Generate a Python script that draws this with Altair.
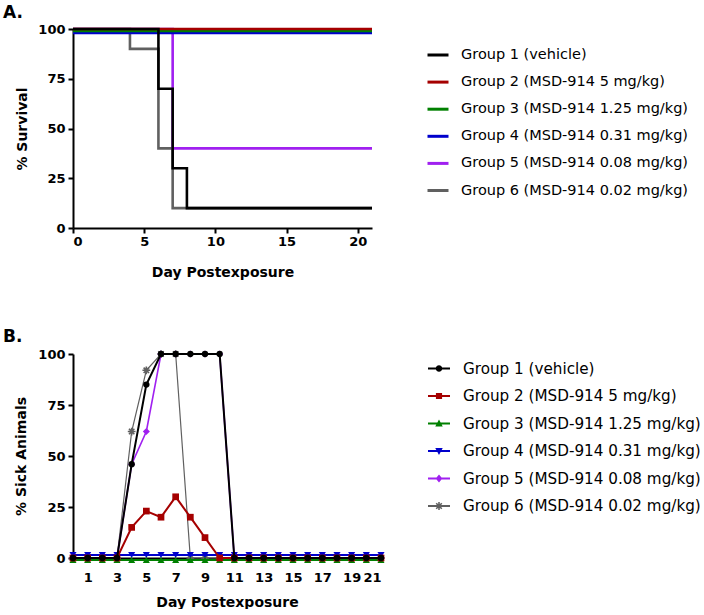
import math

import altair as alt
import pandas as pd

FONT = "DejaVu Sans"

groups = [
    "Group 1 (vehicle)",
    "Group 2 (MSD-914 5 mg/kg)",
    "Group 3 (MSD-914 1.25 mg/kg)",
    "Group 4 (MSD-914 0.31 mg/kg)",
    "Group 5 (MSD-914 0.08 mg/kg)",
    "Group 6 (MSD-914 0.02 mg/kg)",
]
colors = ["#000000", "#a50000", "#008000", "#0000cc", "#a020f0", "#606060"]

# Panel A: Kaplan-Meier survival, step points (day, % survival)
g1_surv_day = [0, 6, 7, 8, 21]
g1_surv = [100, 70, 30, 10, 10]
g2_surv_day = [0, 21]
g2_surv = [100, 100]
g3_surv_day = [0, 21]
g3_surv = [100, 100]
g4_surv_day = [0, 21]
g4_surv = [100, 100]
g5_surv_day = [0, 7, 21]
g5_surv = [100, 40, 40]
g6_surv_day = [0, 4, 6, 7, 21]
g6_surv = [100, 90, 40, 10, 10]

# Panel B: % sick animals per day
days = list(range(0, 22))
g1_sick = [0, 0, 0, 0, 46, 85, 100, 100, 100, 100, 100, 0, 0, 0, 0, 0, 0, 0, 0, 0, 0, 0]
g2_sick = [0, 0, 0, 0, 15, 23, 20, 30, 20, 10, 0, 0, 0, 0, 0, 0, 0, 0, 0, 0, 0, 0]
g3_sick = [0] * 22
g4_sick = [0] * 22
g5_sick = [0, 0, 0, 0, 46, 62, 100, 100, 100, 100, 100, 0, 0, 0, 0, 0, 0, 0, 0, 0, 0, 0]
g6_sick = [0, 0, 0, 0, 62, 92, 100, 100, 0, 0, 0, 0, 0, 0, 0, 0, 0, 0, 0, 0, 0, 0]

x_ticks_a = [0, 5, 10, 15, 20]
x_ticks_b = [1, 3, 5, 7, 9, 11, 13, 15, 17, 19, 21]
y_ticks = [0, 25, 50, 75, 100]

surv_days = [g1_surv_day, g2_surv_day, g3_surv_day, g4_surv_day, g5_surv_day, g6_surv_day]
surv_vals = [g1_surv, g2_surv, g3_surv, g4_surv, g5_surv, g6_surv]
sick_vals = [g1_sick, g2_sick, g3_sick, g4_sick, g5_sick, g6_sick]

# stacked flat lines are nudged apart so each stays visible
offset_a = [0, 0, 2, 4, 0, 0]
offset_b = [0, 0, 2, -3, 0, 0]
width_b = [2, 2, 2, 2, 1.6, 1.2]

star_path = "M0,-1V1M-1,0H1M-0.7,-0.7L0.7,0.7M-0.7,0.7L0.7,-0.7"
point_shapes = ["circle", "square", "triangle-up", "triangle-down", "diamond", star_path]
point_sizes = [40, 45, 50, 50, 50, 60]


def bar(angle_deg, half_len, half_thick):
    """Closed path of a thin bar through the origin (clockwise on screen)."""
    a = math.radians(angle_deg)
    dx, dy = math.cos(a), math.sin(a)
    nx, ny = -dy, dx
    pts = [
        (-half_len * dx - half_thick * nx, -half_len * dy - half_thick * ny),
        (half_len * dx - half_thick * nx, half_len * dy - half_thick * ny),
        (half_len * dx + half_thick * nx, half_len * dy + half_thick * ny),
        (-half_len * dx + half_thick * nx, -half_len * dy + half_thick * ny),
    ]
    return "M" + "L".join(f"{x:.3f},{y:.3f}" for x, y in pts) + "Z"


# legend symbols for panel B: a line segment with the group's marker in its middle
seg = bar(0, 1, 0.09)
legend_paths = [
    seg + "M-0.3,0A0.3,0.3,0,1,1,0.3,0A0.3,0.3,0,1,1,-0.3,0Z",
    seg + "M-0.28,-0.28H0.28V0.28H-0.28Z",
    seg + "M0,-0.36L0.34,0.28H-0.34Z",
    seg + "M0,0.36L-0.34,-0.28H0.34Z",
    seg + "M0,-0.36L0.3,0L0,0.36L-0.3,0Z",
    seg + bar(90, 0.36, 0.07) + bar(45, 0.36, 0.07) + bar(135, 0.36, 0.07),
]

color_scale_a = alt.Scale(domain=groups, range=colors)
color_scale_b = alt.Scale(domain=groups, range=colors)
shape_scale_b = alt.Scale(domain=groups, range=legend_paths)

legend_a = alt.Legend(
    title=None, orient="none", legendX=353, legendY=14, padding=0,
    symbolType="stroke", symbolSize=441, symbolStrokeWidth=3,
    labelFont=FONT, labelFontSize=14.5, labelColor="black", labelOffset=11,
    rowPadding=8.1, labelLimit=400,
)

legend_b = alt.Legend(
    title=None, orient="none", legendX=355, legendY=3.5, padding=0,
    symbolSize=484, symbolStrokeWidth=0, symbolOpacity=1,
    labelFont=FONT, labelFontSize=15.2, labelColor="black", labelOffset=13,
    rowPadding=7.5, labelLimit=400,
)

x_a = alt.X("day:Q", scale=alt.Scale(domain=[0, 21], nice=False),
            axis=alt.Axis(values=x_ticks_a, title="Day Postexposure", tickSize=5,
                          labelPadding=2, titlePadding=17))
y_a = alt.Y("value:Q", scale=alt.Scale(domain=[0, 100], nice=False),
            axis=alt.Axis(values=y_ticks, title="% Survival", tickSize=5,
                          labelPadding=3, titlePadding=8))

layers_a = []
for i in reversed(range(6)):
    df = pd.DataFrame({"day": surv_days[i], "value": surv_vals[i], "group": groups[i]})
    layers_a.append(
        alt.Chart(df).mark_line(interpolate="step-after", strokeWidth=2.6,
                                yOffset=offset_a[i], clip=False)
        .encode(x=x_a, y=y_a,
                color=alt.Color("group:N", scale=color_scale_a, legend=legend_a))
    )

label_a = alt.Chart(pd.DataFrame({"t": ["A."]})).mark_text(
    align="left", baseline="alphabetic", font=FONT, fontSize=17, fontWeight="bold",
    color="black").encode(x=alt.value(-70), y=alt.value(-11), text="t:N")

panel_a = alt.layer(*layers_a, label_a).properties(width=299, height=199)

x_b = alt.X("day:Q", scale=alt.Scale(domain=[0, 21], nice=False),
            axis=alt.Axis(values=x_ticks_b, title="Day Postexposure", ticks=False,
                          labelPadding=13, titlePadding=11))
y_b = alt.Y("value:Q", scale=alt.Scale(domain=[0, 100], nice=False),
            axis=alt.Axis(values=y_ticks, title="% Sick Animals", tickSize=5,
                          labelPadding=3, titlePadding=9))

# key for panel B: an empty layer whose colour and shape scales feed the legend
key_b = (
    alt.Chart(pd.DataFrame({"group": groups}))
    .transform_filter("false")
    .mark_point(filled=True, opacity=1, size=484)
    .encode(
        color=alt.Color("group:N", scale=color_scale_b, legend=legend_b),
        shape=alt.Shape("group:N", scale=shape_scale_b, legend=legend_b),
    )
)

layers_b = [key_b]
for i in reversed(range(6)):
    df = pd.DataFrame({"day": days, "value": sick_vals[i], "group": groups[i]})
    base = alt.Chart(df)
    layers_b.append(
        base.mark_line(color=colors[i], strokeWidth=width_b[i], yOffset=offset_b[i],
                       clip=False)
        .encode(x=x_b, y=y_b)
    )
    is_star = i == 5
    layers_b.append(
        base.mark_point(shape=point_shapes[i], size=point_sizes[i], filled=not is_star,
                        color=colors[i], opacity=1, strokeWidth=1.6 if is_star else 0,
                        yOffset=offset_b[i], clip=False)
        .encode(x=x_b, y=y_b)
    )

label_b = alt.Chart(pd.DataFrame({"t": ["B."]})).mark_text(
    align="left", baseline="alphabetic", font=FONT, fontSize=17, fontWeight="bold",
    color="black").encode(x=alt.value(-70), y=alt.value(-12), text="t:N")

panel_b = alt.layer(*layers_b, label_b).properties(width=308, height=204)

chart = (
    alt.vconcat(panel_a, panel_b, spacing=49)
    .resolve_scale(color="independent", shape="independent")
    .resolve_legend(color="independent", shape="independent")
    .properties(padding={"left": 3, "top": 4, "right": 0, "bottom": 0})
    .configure_view(stroke=None)
    .configure_axis(
        grid=False, domainColor="black", domainWidth=2, tickColor="black", tickWidth=2,
        labelFont=FONT, labelFontSize=13, labelFontWeight="bold", labelColor="black",
        titleFont=FONT, titleFontSize=14, titleFontWeight="bold", titleColor="black",
    )
)

chart.save("out.html", embed_options={"renderer": "svg", "actions": False})
